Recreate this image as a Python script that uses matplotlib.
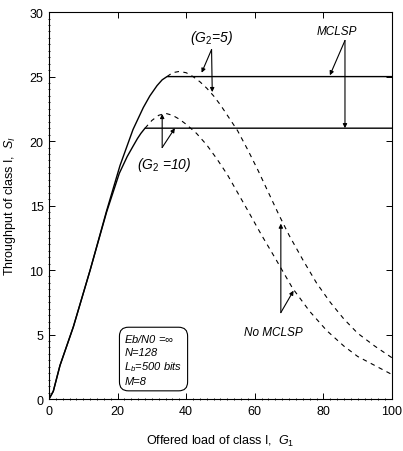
import matplotlib.pyplot as plt
from matplotlib.ticker import MultipleLocator

plt.rcParams['font.family'] = ['Liberation Sans', 'DejaVu Sans']
plt.rcParams['mathtext.fontset'] = 'custom'
plt.rcParams['mathtext.rm'] = 'Liberation Sans'
plt.rcParams['mathtext.it'] = 'Liberation Sans:italic'

# rising part with MCLSP (solid), capped
solid5_x = [0, 1.25, 3.2, 7.1, 12, 16.8, 20.7, 24.5, 27.5, 29.4, 31.5, 33, 34.4, 100]
solid5_y = [0, 0.6, 2.6, 5.6, 10, 14.6, 18.1, 20.9, 22.6, 23.5, 24.3, 24.75, 25, 25]
solid10_x = [0, 1.25, 3.2, 7.1, 12, 16.8, 20.5, 22.8, 24.5, 25.8, 26.8, 28, 100]
solid10_y = [0, 0.6, 2.6, 5.6, 10, 14.5, 17.5, 18.8, 19.6, 20.2, 20.6, 21, 21]

# no MCLSP (dashed) after the cap
dash5_x = [34.4, 36, 38, 40, 42, 44, 46, 48, 50, 52, 55, 58, 61, 64, 67, 70, 74, 78, 82, 86, 90, 95, 100]
dash5_y = [25.0, 25.3, 25.4, 25.3, 25.0, 24.6, 24.1, 23.5, 22.8, 22.0, 20.8, 19.3, 17.7, 16.0, 14.3, 12.7, 10.8, 9.0, 7.5, 6.2, 5.1, 4.1, 3.2]
dash10_x = [28, 30, 32, 34, 36, 38, 40, 43, 46, 49, 52, 55, 58, 62, 66, 71, 76, 81, 86, 90, 95, 100]
dash10_y = [21.0, 21.6, 22.0, 22.15, 22.0, 21.7, 21.3, 20.6, 19.7, 18.6, 17.4, 16.0, 14.6, 12.7, 10.9, 8.6, 6.8, 5.3, 4.1, 3.3, 2.6, 1.9]

fig = plt.figure(figsize=(4.03, 4.52), dpi=100)
ax = fig.add_axes([0.1216, 0.115, 0.851, 0.856])

ax.plot(solid5_x, solid5_y, color='black', lw=1.0)
ax.plot(solid10_x, solid10_y, color='black', lw=1.0)
ax.plot(dash5_x, dash5_y, color='black', lw=0.8, linestyle=(0, (4, 4)))
ax.plot(dash10_x, dash10_y, color='black', lw=0.8, linestyle=(0, (4, 4)))

ax.set_xlim(0, 100)
ax.set_ylim(0, 30)
ax.xaxis.set_major_locator(MultipleLocator(20))
ax.yaxis.set_major_locator(MultipleLocator(5))
ax.xaxis.set_minor_locator(MultipleLocator(2))
ax.yaxis.set_minor_locator(MultipleLocator(0.5))
ax.tick_params(which='major', direction='in', length=4, width=0.7,
               top=True, right=True, labelsize=9, pad=4)
ax.tick_params(which='minor', direction='inout', length=2, width=0.6,
               top=False, right=False)
for s in ax.spines.values():
    s.set_linewidth(0.8)

ax.set_xlabel(r'Offered load of class I,  $\mathit{G_1}$', fontsize=9, labelpad=12)
ax.set_ylabel(r'Throughput of class I,  $\mathit{S_I}$', fontsize=9, labelpad=8)

arrow = dict(arrowstyle='-|>', color='black', lw=0.8, mutation_scale=6, shrinkA=0, shrinkB=0)

# (G2=5)
ax.text(47.5, 28.1, r'($\mathit{G_2}$=5)', fontsize=10, style='italic', ha='center', va='center')
ax.annotate('', xy=(44.5, 25.3), xytext=(47.4, 27.1), arrowprops=arrow)
ax.annotate('', xy=(47.6, 23.8), xytext=(47.4, 27.1), arrowprops=arrow)

# MCLSP
ax.text(83.9, 28.5, 'MCLSP', fontsize=8.5, style='italic', ha='center', va='center')
ax.annotate('', xy=(81.9, 25.1), xytext=(86.3, 27.8), arrowprops=arrow)
ax.annotate('', xy=(86.3, 21.0), xytext=(86.3, 27.8), arrowprops=arrow)

# (G2=10)
ax.text(33.6, 18.2, r'($\mathit{G_2}$ =10)', fontsize=10, style='italic', ha='center', va='center')
ax.annotate('', xy=(33, 22.1), xytext=(33, 19.5), arrowprops=arrow)
ax.annotate('', xy=(36.7, 21.0), xytext=(33, 19.5), arrowprops=arrow)

# No MCLSP
ax.text(65.4, 5.2, 'No MCLSP', fontsize=8.5, style='italic', ha='center', va='center')
ax.annotate('', xy=(67.6, 13.6), xytext=(67.6, 6.7), arrowprops=arrow)
ax.annotate('', xy=(71.3, 8.4), xytext=(67.6, 6.7), arrowprops=arrow)

ax.text(22.0, 3.1, 'Eb/N0 =$\\infty$\nN=128\nL$_b$=500 bits\nM=8',
        fontsize=8, style='italic', ha='left', va='center', linespacing=1.3,
        bbox=dict(boxstyle='round,pad=0.45,rounding_size=0.8', fc='white', ec='black', lw=0.8))

fig.savefig('out.png', dpi=100)
